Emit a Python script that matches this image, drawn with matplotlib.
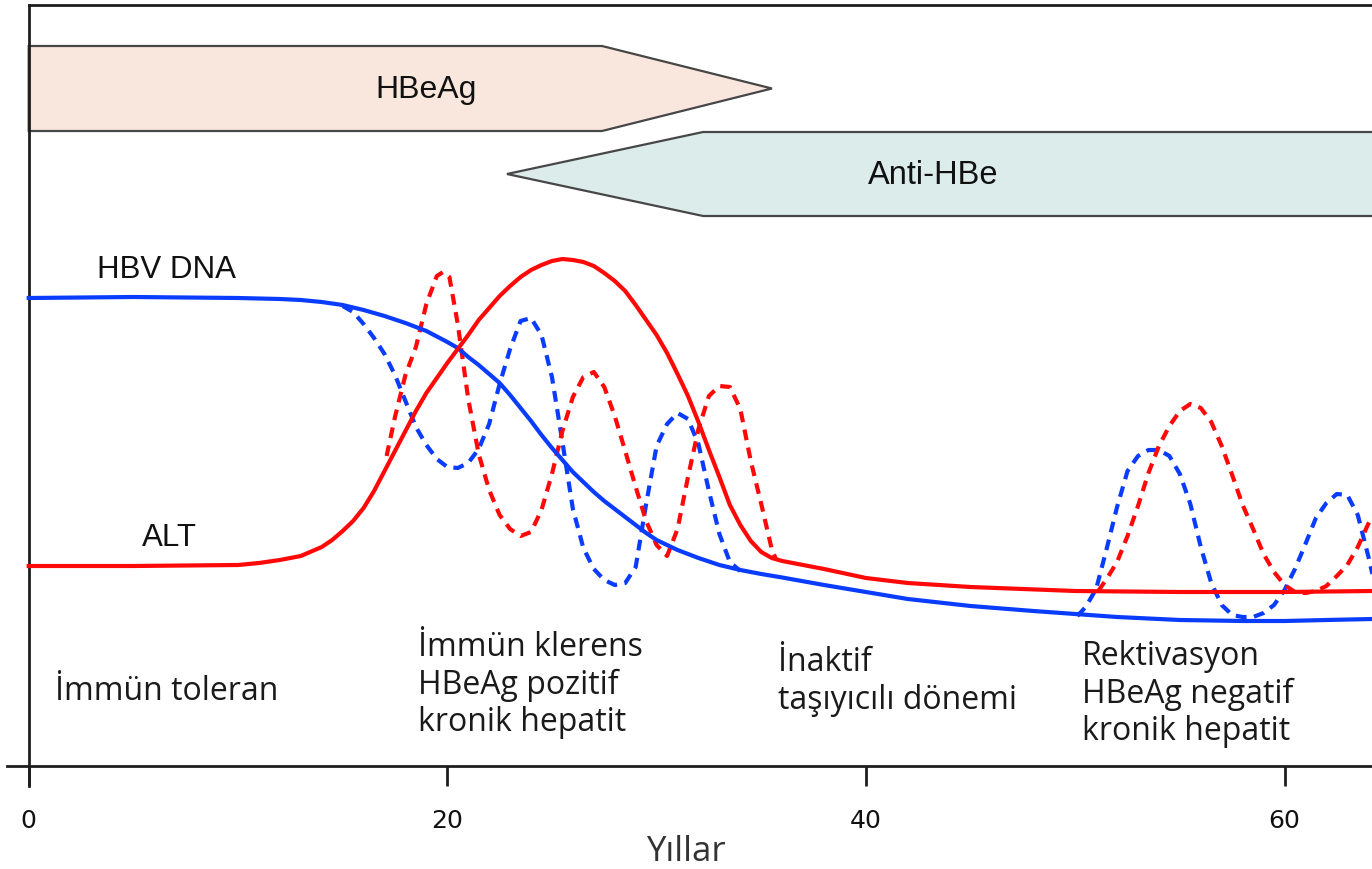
import matplotlib
matplotlib.use("Agg")
import matplotlib.pyplot as plt
from matplotlib.patches import Polygon

# ---------------- data ----------------
# x: years, y: relative level (arbitrary units, 0 = time axis)

# HBV DNA, solid blue curve
hbv_x = [0, 5, 10, 12, 13, 14, 15, 16, 17, 18, 19, 20, 20.5, 21, 21.5, 22, 22.5,
         23, 23.5, 24, 24.5, 25, 25.5, 26, 26.5, 27, 27.5, 28, 28.5, 29, 29.5,
         30, 31, 32, 33, 34, 35, 36, 38, 40, 42, 45, 48, 50, 52, 55, 58, 60, 62, 64.2]
hbv_y = [468, 469, 468, 467, 466, 464, 461, 456, 450, 443, 435, 424, 418, 409, 401, 392, 383,
         371, 358, 345, 331, 318, 306, 294, 284, 274, 265, 257, 249, 241, 233,
         226, 216, 208, 201, 196, 192, 188.5, 181, 174, 167, 160, 155, 152, 149, 146, 145, 145, 146, 147]

# ALT, solid red curve
alt_x = [0, 5, 10, 11, 12, 13, 14, 14.5, 15, 15.5, 16, 16.5, 17, 17.5, 18, 18.5, 19,
         19.5, 20, 20.5, 21, 21.5, 22, 22.5, 23, 23.5, 24, 24.5, 25, 25.5, 26, 26.5,
         27, 27.5, 28, 28.5, 29, 29.5, 30, 30.5, 31, 31.5, 32, 32.5, 33, 33.5, 34,
         34.5, 35, 35.5, 36, 37, 38, 40, 42, 45, 50, 55, 60, 64.2]
alt_y = [200, 200, 201, 203, 206, 210, 219, 226, 235, 245, 258, 275, 295, 315, 335, 355, 373,
         388, 403, 417, 431, 446, 458, 470, 480, 489, 496, 501, 505, 507, 506, 504,
         500, 493, 485, 475, 461, 446, 431, 413, 392, 370, 344, 316, 289, 261, 241,
         225, 214, 208, 205, 201, 197, 188, 183, 179, 175, 174, 174, 175]

# HBV DNA fluctuations, dashed blue (immune clearance phase)
hbv_flu1_x = [15, 15.5, 16, 16.5, 17, 17.5, 18, 18.5, 19, 19.5, 20, 20.5, 21, 21.5,
              22, 22.5, 23, 23.5, 24, 24.5, 25, 25.5, 26, 26.5, 27, 27.5, 28, 28.5,
              29, 29.5, 30, 30.5, 31, 31.5, 32, 32.5, 33, 33.5, 34]
hbv_flu1_y = [460, 454, 442, 428, 412, 391, 365, 339, 321, 307, 299, 298, 303, 317,
              342, 382, 417, 445, 448, 431, 389, 324, 257, 218, 197, 186, 181, 183,
              199, 262, 320, 342, 353, 347, 322, 275, 232, 204, 195]

# ALT flares, dashed red (immune clearance phase)
alt_flu1_x = [17.1, 17.5, 18, 18.5, 19, 19.5, 19.8, 20.1, 20.5, 21, 21.5, 22, 22.5,
              23, 23.5, 24, 24.5, 25, 25.5, 26, 26.5, 27, 27.5, 28, 28.5, 29, 29.5,
              30, 30.5, 31, 31.5, 32, 32.5, 33, 33.5, 34, 34.5, 35, 35.5, 35.7]
alt_flu1_y = [310, 349, 391, 419, 462, 490, 494, 489, 442, 367, 312, 276, 251,
              237, 230, 234, 256, 292, 335, 369, 389, 394, 379, 350, 315, 279, 245,
              221, 210, 237, 289, 337, 370, 380, 379, 357, 305, 262, 217, 207]

# Reactivation phase, dashed blue
hbv_flu2_x = [50.1, 50.5, 51, 51.5, 52, 52.5, 53, 53.5, 54, 54.5, 55, 55.5, 56, 56.5,
              57, 57.5, 58, 58.5, 59, 59.5, 60, 60.5, 61, 61.5, 62, 62.5, 63, 63.5,
              64, 64.2]
hbv_flu2_y = [150, 159, 177, 217, 259, 295, 310, 316, 316, 310, 292, 262, 219, 183,
              161, 151, 149, 149, 153, 161, 176, 197, 222, 248, 263, 272, 271, 251,
              210, 192]

# Reactivation phase, dashed red
alt_flu2_x = [51.1, 51.5, 52, 52.5, 53, 53.5, 54, 54.5, 55, 55.5, 56, 56.5, 57, 57.5,
              58, 58.5, 59, 59.5, 60, 60.5, 61, 61.5, 62, 62.5, 63, 63.5, 64, 64.2]
alt_flu2_y = [175, 187, 204, 230, 260, 293, 320, 340, 355, 362, 358, 344, 320, 291,
              261, 237, 212, 194, 181, 174, 173, 175, 180, 190, 201, 219, 242, 250]

# Serology arrows: (start, shoulder, tip) in years
hbeag_span = (0.0, 27.39, 35.51)
antihbe_span = (64.6, 32.22, 22.85)

# Tick labels
x_ticks = [0, 20, 40, 60]
x_ticklabels = ["0", "20", "40", "60"]

# Phase labels
phase_labels = [
    ["İmmün toleran"],
    ["İmmün klerens", "HBeAg pozitif", "kronik hepatit"],
    ["İnaktif", "taşıyıcılı dönemi"],
    ["Rektivasyon", "HBeAg negatif", "kronik hepatit"],
]

# ---------------- drawing ----------------
W, H = 1372, 870
fig = plt.figure(figsize=(W / 100, H / 100), dpi=100)
ax = fig.add_axes([0, 0, 1, 1])
ax.set_xlim(-1.371, 64.18)
ax.set_ylim(-103, 767)

RED = "#ff0808"
BLUE = "#0a3cff"
LW = 3.0
DASH = (2.6, 1.8)


def arrow_poly(span, top, bottom):
    start, shoulder, tip = span
    mid = (top + bottom) / 2
    return [(start, top), (shoulder, top), (tip, mid), (shoulder, bottom), (start, bottom)]


ax.add_patch(Polygon(arrow_poly(hbeag_span, 720, 635), closed=True,
                     facecolor="#f9e7de", edgecolor="#474747", lw=1.6, zorder=1))
ax.add_patch(Polygon(arrow_poly(antihbe_span, 634, 550), closed=True,
                     facecolor="#dcecea", edgecolor="#474747", lw=1.6, zorder=1))

arial = "Liberation Sans"
ax.text(18.98, 677, "HBeAg", fontsize=23, family=arial, ha="center", va="center", color="#111")
ax.text(43.2, 591, "Anti-HBe", fontsize=23.5, family=arial, ha="center", va="center", color="#111")

# curves
ax.plot(hbv_flu1_x, hbv_flu1_y, color=BLUE, lw=LW, dashes=DASH, zorder=3)
ax.plot(alt_flu1_x, alt_flu1_y, color=RED, lw=LW, dashes=DASH, zorder=3)
ax.plot(hbv_flu2_x, hbv_flu2_y, color=BLUE, lw=LW, dashes=DASH, zorder=3)
ax.plot(alt_flu2_x, alt_flu2_y, color=RED, lw=LW, dashes=DASH, zorder=3)
ax.plot(hbv_x, hbv_y, color=BLUE, lw=LW, zorder=4, solid_joinstyle="round")
ax.plot(alt_x, alt_y, color=RED, lw=LW, zorder=4, solid_joinstyle="round")

ax.text(3.26, 497, "HBV DNA", fontsize=22.5, family=arial, ha="left", va="center", color="#111")
ax.text(5.41, 229, "ALT", fontsize=22.5, family=arial, ha="left", va="center", color="#111")

# phase labels
seg = ["Open Sans", "DejaVu Sans"]
phase_pos = [(1.26, 75), (18.60, 119), (35.80, 104), (50.33, 110)]
step = 37.5
for lines, (px, py) in zip(phase_labels, phase_pos):
    for i, line in enumerate(lines):
        ax.text(px, py - i * step, line, fontsize=23, family=seg, ha="left",
                va="center", color="#1a1a1a")

# axes / frame
ax.spines["right"].set_visible(False)
ax.spines["bottom"].set_position(("data", 0))
ax.spines["bottom"].set_bounds(-1.03, 64.18)
ax.spines["left"].set_position(("data", 0))
ax.spines["left"].set_bounds(-20, 761)
ax.spines["top"].set_position(("data", 761))
ax.spines["top"].set_bounds(0, 64.18)
for s in ["bottom", "left", "top"]:
    ax.spines[s].set_linewidth(2.0)
    ax.spines[s].set_color("#1e1e1e")

ax.set_xticks(x_ticks)
ax.set_xticklabels(x_ticklabels)
ax.set_yticks([])
ax.tick_params(axis="x", direction="out", length=14.4, width=2.0, color="#1e1e1e",
               pad=16, labelsize=18, labelcolor="#111")
ax.xaxis.set_ticks_position("bottom")
for lab in ax.get_xticklabels():
    lab.set_family("DejaVu Sans")

ax.text(31.4, -85, "Yıllar", fontsize=25, family=seg, ha="center", va="center", color="#333")

fig.savefig("out.png", dpi=100)
